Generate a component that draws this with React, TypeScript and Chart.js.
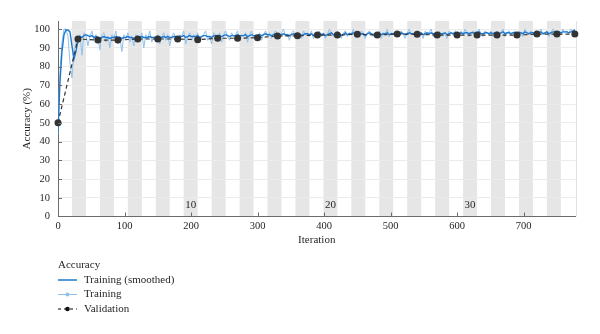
import React, { useEffect, useRef } from "react";
import { Chart, registerables } from "chart.js";

Chart.register(...registerables);

const FONT = "'Liberation Serif', 'DejaVu Serif', serif";
const TEXT = "#262626";
const AXIS = "#6b6b6b";

const X_MAX = 778;
const ITERS_PER_EPOCH = 21;
const NUM_EPOCHS = 37;
const EPOCH_LABELS = [10, 20, 30];
const X_TICKS = [0, 100, 200, 300, 400, 500, 600, 700];
const Y_TICKS = [0, 10, 20, 30, 40, 50, 60, 70, 80, 90, 100];
const Y_MAX = 104.3;

// Training accuracy sampled every TRAIN_STEP iterations (0 ... 777)
const TRAIN_STEP = 3;
const trainingAcc = [
  44, 78, 93, 100, 100, 96, 82, 74, 88, 93,
  92, 97, 86, 98, 97, 91, 96, 99, 94, 97,
  95, 89, 97, 98, 93, 96, 90, 97, 95, 99,
  92, 96, 88, 97, 95, 98, 93, 96, 91, 97,
  96, 94, 98, 90, 97, 95, 99, 93, 96, 95,
  97, 92, 96, 98, 94, 97, 91, 96, 98, 95,
  93, 97, 96, 99, 92, 96, 98, 94, 97, 95,
  98, 93, 96, 97, 99, 94, 96, 92, 98, 97,
  95, 98, 93, 97, 99, 96, 94, 98, 96, 97,
  99, 94, 97, 96, 98, 93, 97, 99, 95, 97,
  96, 98, 94, 97, 99, 96, 98, 95, 97, 99,
  97, 95, 98, 100, 96, 97, 94, 98, 99, 96,
  98, 97, 95, 99, 97, 98, 96, 99, 95, 98,
  97, 99, 96, 98, 95, 97, 100, 98, 96, 97,
  99, 97, 95, 98, 99, 96, 98, 97, 100, 96,
  98, 96, 99, 97, 95, 98, 99, 97, 96, 98,
  97, 99, 95, 98, 97, 100, 96, 98, 97, 99,
  96, 98, 99, 97, 95, 98, 100, 97, 98, 96,
  99, 97, 98, 95, 99, 97, 98, 100, 96, 98,
  97, 99, 96, 98, 97, 95, 99, 98, 97, 99,
  98, 96, 99, 97, 100, 98, 96, 98, 99, 97,
  98, 100, 97, 96, 99, 98, 97, 99, 96, 98,
  99, 97, 98, 100, 96, 98, 99, 97, 98, 99,
  97, 99, 98, 96, 100, 98, 97, 99, 98, 97,
  99, 98, 100, 97, 98, 99, 96, 98, 100, 99,
  98, 99, 97, 100, 98, 99, 98, 100, 99, 100,
];

// Smoothed training accuracy, same sampling
const smoothedAcc = [
  45, 72, 88, 97, 99.5, 99.5, 98.5, 91, 84, 88,
  94, 96, 95.5, 96.5, 97, 96.5, 96, 96.5, 95.5, 96,
  95.5, 95, 95.5, 96, 95.5, 95.5, 95, 95.5, 95.5, 96,
  95.5, 95.5, 95, 95.5, 95.5, 96, 95.5, 95.5, 95, 95.5,
  95.5, 95.5, 96, 95.5, 95.5, 95.5, 96, 95.5, 95.5, 95.5,
  96, 95.5, 95.5, 96, 95.5, 96, 95.5, 95.5, 96, 96,
  95.5, 96, 96, 96.5, 95.5, 96, 96.5, 96, 96, 96,
  96.5, 95.5, 96, 96.5, 96.5, 96, 96, 95.5, 96.5, 96.5,
  96, 96.5, 96, 96.5, 97, 96.5, 96, 96.5, 96.5, 96.5,
  97, 96.5, 96.5, 96.5, 97, 96, 96.5, 97, 96.5, 96.5,
  96.5, 97, 96.5, 97, 97.5, 97, 97, 96.5, 97, 97.5,
  97, 96.5, 97, 97.5, 97, 97, 96.5, 97, 97.5, 97,
  97, 97.5, 96.5, 97, 97.5, 97.5, 97, 97.5, 96.5, 97,
  97.5, 97.5, 97, 97.5, 96.5, 97, 97.5, 98, 97, 97,
  97.5, 97.5, 96.5, 97, 98, 97, 97.5, 97.5, 98, 97,
  97.5, 97, 97.5, 97.5, 96.5, 97.5, 98, 97.5, 97, 97.5,
  97.5, 98, 97, 97.5, 97.5, 98, 97, 97.5, 97.5, 98,
  97, 97.5, 98, 97.5, 97, 97.5, 98, 97.5, 97.5, 97,
  98, 97.5, 98, 97, 97.5, 98, 97.5, 98, 97.5, 97.5,
  97.5, 98, 97.5, 97.5, 98, 97, 97.5, 98, 97.5, 98,
  98, 97.5, 98, 97.5, 98, 98, 97.5, 98, 98, 97.5,
  98, 98.5, 97.5, 97.5, 98, 98, 97.5, 98, 97.5, 98,
  98, 97.5, 98, 98.5, 97.5, 98, 98, 97.5, 98, 98,
  97.5, 98, 98, 97.5, 98.5, 98, 97.5, 98, 98, 97.5,
  98, 98, 98.5, 97.5, 98, 98.5, 97.5, 98, 98.5, 98.5,
  98, 98.5, 98, 98.5, 98.5, 98.5, 98, 98.5, 99, 99.5,
];

const validationIter = [
  0, 30, 60, 90, 120, 150, 180, 210, 240, 270, 300, 330, 360, 390,
  420, 450, 480, 510, 540, 570, 600, 630, 660, 690, 720, 750, 777,
];
const validationAcc = [
  50, 94.7, 94.1, 94.1, 94.7, 94.7, 94.7, 94.3, 95.1, 95.1, 95.4, 96.3, 96.4, 96.8,
  96.8, 97.2, 96.8, 97.3, 97.2, 96.8, 96.8, 96.8, 96.8, 96.8, 97.3, 97.3, 97.3,
];

const LEGEND_TITLE = "Accuracy";
const LEGEND_LABELS = ["Training (smoothed)", "Training", "Validation"];

const COL_SMOOTH = "#1f78cf";
const COL_RAW = "#8fc1ec";
const COL_VAL = "#333333";

const decorPlugin = {
  id: "decor",
  beforeDraw(chart: any) {
    const { ctx, chartArea, scales } = chart;
    const x = scales.x;
    ctx.save();
    ctx.fillStyle = "#e6e6e6";
    for (let e = 2; e <= NUM_EPOCHS; e += 2) {
      const x0 = x.getPixelForValue((e - 1) * ITERS_PER_EPOCH);
      const x1 = x.getPixelForValue(Math.min(e * ITERS_PER_EPOCH, X_MAX));
      ctx.fillRect(x0, chartArea.top, x1 - x0, chartArea.bottom - chartArea.top);
    }
    ctx.strokeStyle = "#e2e2e2";
    ctx.lineWidth = 1;
    ctx.beginPath();
    ctx.moveTo(Math.round(chartArea.right) + 0.5, chartArea.top);
    ctx.lineTo(Math.round(chartArea.right) + 0.5, chartArea.bottom);
    ctx.stroke();
    ctx.restore();
  },
  beforeDatasetsDraw(chart: any) {
    const { ctx, chartArea, scales } = chart;
    const x = scales.x;
    ctx.save();
    ctx.fillStyle = TEXT;
    ctx.font = `11px ${FONT}`;
    ctx.textAlign = "center";
    ctx.textBaseline = "middle";
    for (const ep of EPOCH_LABELS) {
      const cx = x.getPixelForValue((ep - 0.5) * ITERS_PER_EPOCH);
      ctx.fillText(String(ep), cx, chartArea.bottom - 11);
    }
    ctx.restore();
  },
  afterDraw(chart: any) {
    const { ctx, chartArea, scales } = chart;
    const x = scales.x;
    const y = scales.y;
    ctx.save();
    // inward tick marks
    ctx.strokeStyle = AXIS;
    ctx.lineWidth = 1;
    ctx.beginPath();
    for (const v of X_TICKS) {
      if (v === 0) continue;
      const px = Math.round(x.getPixelForValue(v)) + 0.5;
      ctx.moveTo(px, chartArea.bottom);
      ctx.lineTo(px, chartArea.bottom - 4);
    }
    for (const v of Y_TICKS) {
      if (v === 0) continue;
      const py = Math.round(y.getPixelForValue(v)) + 0.5;
      ctx.moveTo(chartArea.left, py);
      ctx.lineTo(chartArea.left + 4, py);
    }
    ctx.stroke();

    // legend
    const lx = 58;
    ctx.font = `11px ${FONT}`;
    ctx.fillStyle = TEXT;
    ctx.textAlign = "left";
    ctx.textBaseline = "middle";
    ctx.fillText(LEGEND_TITLE, lx, 265);
    const rows = [280, 294.5, 309];
    const tx = 84;
    // smoothed
    ctx.strokeStyle = COL_SMOOTH;
    ctx.lineWidth = 1.5;
    ctx.beginPath();
    ctx.moveTo(lx, rows[0]);
    ctx.lineTo(lx + 19, rows[0]);
    ctx.stroke();
    // raw
    ctx.strokeStyle = COL_RAW;
    ctx.lineWidth = 1;
    ctx.beginPath();
    ctx.moveTo(lx, rows[1]);
    ctx.lineTo(lx + 19, rows[1]);
    ctx.stroke();
    ctx.fillStyle = COL_RAW;
    ctx.beginPath();
    ctx.arc(lx + 9.5, rows[1], 2, 0, Math.PI * 2);
    ctx.fill();
    // validation
    ctx.strokeStyle = COL_VAL;
    ctx.lineWidth = 1.2;
    ctx.setLineDash([3, 3]);
    ctx.beginPath();
    ctx.moveTo(lx, rows[2]);
    ctx.lineTo(lx + 19, rows[2]);
    ctx.stroke();
    ctx.setLineDash([]);
    ctx.fillStyle = "#111";
    ctx.beginPath();
    ctx.arc(lx + 9.5, rows[2], 2.3, 0, Math.PI * 2);
    ctx.fill();

    ctx.fillStyle = TEXT;
    LEGEND_LABELS.forEach((t, i) => ctx.fillText(t, tx, rows[i]));
    ctx.restore();
  },
};

export default function App() {
  const ref = useRef<HTMLCanvasElement | null>(null);

  useEffect(() => {
    if (!ref.current) return;
    const chart = new Chart(ref.current, {
      type: "line",
      data: {
        datasets: [
          {
            label: LEGEND_LABELS[2],
            data: validationIter.map((it, i) => ({ x: it, y: validationAcc[i] })),
            borderColor: COL_VAL,
            borderWidth: 1.2,
            borderDash: [4, 3],
            pointRadius: 3.5,
            pointBackgroundColor: COL_VAL,
            pointBorderWidth: 0,
            tension: 0,
            clip: false as any,
          },
          {
            label: LEGEND_LABELS[0],
            data: smoothedAcc.map((v, i) => ({ x: i * TRAIN_STEP, y: v })),
            borderColor: COL_SMOOTH,
            borderWidth: 1.4,
            pointRadius: 0,
            tension: 0,
          },
          {
            label: LEGEND_LABELS[1],
            data: trainingAcc.map((v, i) => ({ x: i * TRAIN_STEP, y: v })),
            borderColor: COL_RAW,
            borderWidth: 1,
            pointRadius: 0,
            tension: 0,
          },
        ],
      },
      options: {
        responsive: false,
        animation: false,
        events: [],
        layout: { padding: { left: 0, top: 21, right: 24.5, bottom: 87.4 } },
        plugins: {
          legend: { display: false },
          tooltip: { enabled: false },
        },
        scales: {
          x: {
            type: "linear",
            min: 0,
            max: X_MAX,
            afterFit: (s: any) => {
              s.height = 30.1;
            },
            afterBuildTicks: (s: any) => {
              s.ticks = X_TICKS.map((v) => ({ value: v }));
            },
            grid: { display: false, drawTicks: false },
            border: { display: true, color: AXIS, width: 1 },
            ticks: {
              padding: 3,
              maxRotation: 0,
              autoSkip: false,
              color: TEXT,
              font: { family: FONT, size: 10.5 },
            },
            title: {
              display: true,
              text: "Iteration",
              color: TEXT,
              font: { family: FONT, size: 11 },
              padding: { top: 0, bottom: 0 },
            },
          },
          y: {
            type: "linear",
            min: 0,
            max: Y_MAX,
            afterFit: (s: any) => {
              s.width = 58;
            },
            afterBuildTicks: (s: any) => {
              s.ticks = Y_TICKS.map((v) => ({ value: v }));
            },
            grid: { color: "#ebebeb", drawTicks: false },
            border: { display: true, color: AXIS, width: 1 },
            ticks: {
              padding: 8,
              color: TEXT,
              font: { family: FONT, size: 10.5 },
            },
            title: {
              display: true,
              text: "Accuracy (%)",
              color: TEXT,
              font: { family: FONT, size: 11 },
              padding: { top: 20.4, bottom: 0 },
            },
          },
        },
      },
      plugins: [decorPlugin],
    });
    return () => chart.destroy();
  }, []);

  return (
    <div style={{ position: "absolute", left: 0, top: 0, width: 600, height: 334, background: "#fff" }}>
      <canvas ref={ref} width={600} height={334} />
    </div>
  );
}
